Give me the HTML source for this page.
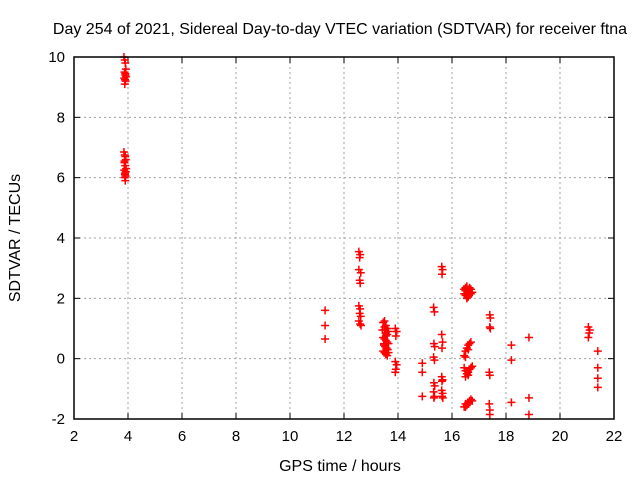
<!DOCTYPE html>
<html><head><meta charset="utf-8"><style>
body{margin:0;background:#fff}
svg{display:block;font-family:"Liberation Sans",sans-serif}
</style></head><body>
<svg id="chart" width="640" height="480">
<text x="340" y="34" text-anchor="middle" font-size="16">Day 254 of 2021, Sidereal Day-to-day VTEC variation (SDTVAR) for receiver ftna</text>
<text x="340" y="471" text-anchor="middle" font-size="16">GPS time / hours</text>
<text transform="translate(20,238) rotate(-90)" text-anchor="middle" font-size="16">SDTVAR / TECUs</text>
<g id="grid"></g><g id="ticks"></g><g id="pts"></g>
<rect x="74" y="57" width="540" height="362" fill="none" stroke="#000" stroke-width="1.5"/>
</svg>
<script>
const xTicks=[2,4,6,8,10,12,14,16,18,20,22];
const yTicks=[-2,0,2,4,6,8,10];
const times=[3.85,3.88,3.9,3.92,3.87,3.9,3.93,3.86,3.89,3.91,3.88,3.9,
3.85,3.88,3.9,3.92,3.87,3.9,3.93,3.86,3.89,3.91,3.88,3.9,3.87,3.92,3.89,
11.3,11.3,11.3,
12.55,12.6,12.58,12.55,12.62,12.58,12.6,12.55,12.6,12.58,12.62,12.55,12.6,12.63,
13.45,13.5,13.55,13.6,13.65,13.5,13.55,13.6,13.45,13.5,13.55,13.6,13.65,13.48,13.52,13.58,13.62,13.45,13.5,13.55,13.6,13.65,13.5,13.55,13.42,13.48,
13.9,13.95,13.92,13.9,13.95,13.92,13.9,
14.9,14.9,14.9,
15.32,15.35,15.33,15.36,15.32,15.35,15.33,15.36,15.32,15.35,15.33,
15.62,15.65,15.63,15.62,15.65,15.63,15.62,15.65,15.63,15.62,15.65,15.63,15.66,
16.45,16.5,16.55,16.6,16.65,16.7,16.75,16.5,16.6,16.7,16.45,16.55,16.65,16.5,
16.45,16.5,16.55,16.6,16.65,16.7,16.5,16.6,
16.45,16.5,16.55,16.6,16.65,16.7,16.75,16.5,16.6,
16.45,16.5,16.55,16.6,16.65,16.7,16.75,16.5,16.6,
17.4,17.42,17.4,17.42,17.38,17.4,17.38,17.4,17.4,
18.2,18.2,18.2,18.85,18.85,18.85,
21.05,21.1,21.08,21.05,21.4,21.4,21.4,21.4];
const values=[10.0,9.9,9.8,9.6,9.5,9.4,9.35,9.3,9.25,9.2,9.1,9.45,
6.85,6.75,6.7,6.6,6.5,6.4,6.3,6.25,6.15,6.05,6.0,5.9,6.55,6.2,6.1,
1.6,1.1,0.65,
3.55,3.45,3.35,2.95,2.85,2.6,2.5,1.75,1.65,1.5,1.4,1.25,1.15,1.1,
1.2,1.25,1.1,1.0,0.9,0.95,0.85,0.8,0.7,0.65,0.6,0.55,0.5,0.45,0.4,0.35,0.3,0.25,0.2,0.15,0.1,0.2,1.05,0.75,0.95,0.5,
1.0,0.9,0.75,-0.1,-0.2,-0.35,-0.45,
-0.15,-0.45,-1.25,
1.7,1.55,0.5,0.4,0.05,-0.05,-0.8,-0.9,-1.1,-1.25,-1.3,
3.05,2.95,2.8,0.8,0.55,0.35,-0.6,-0.7,-0.75,-1.05,-1.15,-1.25,-1.3,
2.3,2.35,2.4,2.25,2.2,2.3,2.2,2.1,2.05,2.15,2.15,2.0,2.35,2.25,
0.1,0.25,0.35,0.45,0.5,0.55,0.05,0.3,
-0.3,-0.4,-0.5,-0.45,-0.35,-0.3,-0.25,-0.6,-0.55,
-1.6,-1.5,-1.55,-1.45,-1.4,-1.35,-1.4,-1.6,-1.5,
1.45,1.35,1.05,1.0,-0.45,-0.55,-1.5,-1.7,-1.85,
0.45,-0.05,-1.45,0.7,-1.3,-1.85,
1.05,0.95,0.85,0.7,0.25,-0.3,-0.65,-0.95];
const NS='http://www.w3.org/2000/svg';
const X0=74,X1=614,Y0=419,Y1=57;
function xs(v){return X0+(v-2)/(22-2)*(X1-X0);}
function ys(v){return Y0-(v+2)/(10+2)*(Y0-Y1);}
function mk(t,a,p){const e=document.createElementNS(NS,t);for(const k in a)e.setAttribute(k,a[k]);p.appendChild(e);return e;}
const grid=document.getElementById('grid'),ticks=document.getElementById('ticks'),pts=document.getElementById('pts');
xTicks.forEach(t=>{const x=xs(t);
 if(t>2&&t<22){const g=mk('line',{x1:x,x2:x,y1:Y0,y2:Y1,stroke:'#a0a0a0','stroke-dasharray':'2,3'},grid);
 
 }
 mk('line',{x1:x,x2:x,y1:Y0,y2:Y0-6,stroke:'#000'},ticks);
 mk('line',{x1:x,x2:x,y1:Y1,y2:Y1+6,stroke:'#000'},ticks);
 const l=mk('text',{x:x,y:Y0+22,'text-anchor':'middle','font-size':'15'},ticks);l.textContent=t;
 
 });
yTicks.forEach(t=>{const y=ys(t);
 if(t>-2&&t<10){const g=mk('line',{x1:X0,x2:X1,y1:y,y2:y,stroke:'#a0a0a0','stroke-dasharray':'2,3'},grid);
 
 }
 mk('line',{x1:X0,x2:X0+6,y1:y,y2:y,stroke:'#000'},ticks);
 mk('line',{x1:X1,x2:X1-6,y1:y,y2:y,stroke:'#000'},ticks);
 const l=mk('text',{x:X0-9,y:y+5,'text-anchor':'end','font-size':'15'},ticks);l.textContent=t;
 
 });
times.forEach((t,i)=>{const x=xs(t),y=ys(values[i]);
 const p=mk('path',{d:`M${x-4},${y}H${x+4}M${x},${y-4}V${y+4}`,stroke:'#f00','stroke-width':'1.5'},pts);
 
 });
</script>
</body></html>
